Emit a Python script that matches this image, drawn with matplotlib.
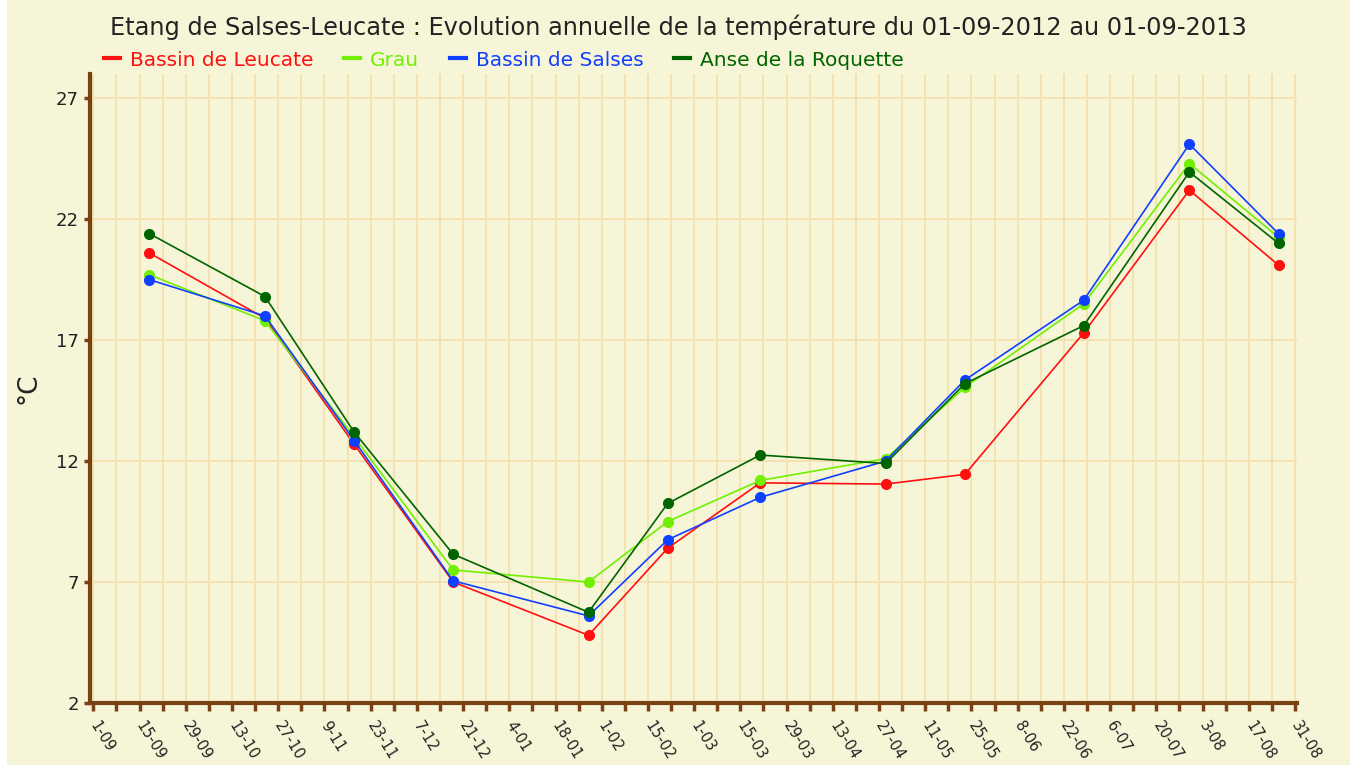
import matplotlib
matplotlib.use("Agg")
import matplotlib.pyplot as plt
import pandas as pd
import numpy as np
from matplotlib.patches import Rectangle

title = "Etang de Salses-Leucate : Evolution annuelle de la température du 01-09-2012 au 01-09-2013"
start_date = "2012-09-01"
dates = ["2012-09-18", "2012-10-23", "2012-11-19", "2012-12-19", "2013-01-29",
         "2013-02-22", "2013-03-22", "2013-04-29", "2013-05-23", "2013-06-28",
         "2013-07-30", "2013-08-26"]
leucate = [20.6, 17.9, 12.7, 7.0, 4.8, 8.4, 11.1, 11.05, 11.45, 17.3, 23.2, 20.1]
grau = [19.7, 17.8, 13.0, 7.5, 7.0, 9.5, 11.2, 12.1, 15.05, 18.5, 24.3, 21.25]
salses = [19.5, 18.0, 12.85, 7.05, 5.6, 8.75, 10.5, 12.0, 15.35, 18.65, 25.1, 21.4]
roquette = [21.4, 18.8, 13.2, 8.15, 5.75, 10.25, 12.25, 11.9, 15.2, 17.6, 23.95, 21.0]
series_names = ["Bassin de Leucate", "Grau", "Bassin de Salses", "Anse de la Roquette"]
series_colors = ["#FF1010", "#70F000", "#1040FF", "#006400"]
xtick_labels = ["1-09", "15-09", "29-09", "13-10", "27-10", "9-11", "23-11", "7-12",
                "21-12", "4-01", "18-01", "1-02", "15-02", "1-03", "15-03", "29-03",
                "13-04", "27-04", "11-05", "25-05", "8-06", "22-06", "6-07", "20-07",
                "3-08", "17-08", "31-08"]
yticks = [2, 7, 12, 17, 22, 27]

bg = "#F7F5D8"
grid_c = "#F4E2B2"
brown = "#7A4115"

days = (pd.to_datetime(dates) - pd.Timestamp(start_date)).days.values

fig = plt.figure(figsize=(13.5, 7.67), dpi=100, facecolor="white")
fig.patches.append(Rectangle((7 / 1350, 0.003), 1, 1, transform=fig.transFigure,
                             facecolor=bg, edgecolor="none", zorder=-10))
ax = fig.add_axes([90 / 1350, 1 - 703 / 767, (1297 - 90) / 1350, (703 - 74) / 767])
ax.set_facecolor(bg)

for vals, name, col in zip([leucate, grau, salses, roquette], series_names, series_colors):
    ax.plot(days, vals, color=col, lw=1.2, marker="o", ms=7, mec=col, mfc=col, label=name,
            zorder=3)

ax.set_xlim(-1, 364.6)
ax.set_ylim(2, 28)
ax.set_xticks(np.arange(len(xtick_labels)) * 14)
ax.set_xticks(np.arange(0, 365, 7), minor=True)
ax.set_xticklabels(xtick_labels, rotation=-58, ha="left", va="center",
                   rotation_mode="anchor", fontsize=10.5, color="#222222")
ax.set_yticks(yticks)
ax.set_yticklabels([str(v) for v in yticks], fontsize=13, color="#222222")
ax.tick_params(axis="x", which="both", direction="out", length=6, width=2.5, color=brown, pad=8)
ax.tick_params(axis="y", direction="out", length=4, width=2.5, color=brown, pad=4)
ax.grid(True, axis="x", which="both", color=grid_c, lw=1.4, zorder=0)
ax.grid(True, axis="y", which="major", color=grid_c, lw=1.4, zorder=0)
ax.set_axisbelow(True)
for s in ["top", "right"]:
    ax.spines[s].set_visible(False)
for s in ["left", "bottom"]:
    ax.spines[s].set_color(brown)
    ax.spines[s].set_linewidth(3)

ax.set_ylabel("°C", fontsize=19, color="#222222", labelpad=10)

fig.text(0.5025, 1 - 27 / 767, title, ha="center", va="center", fontsize=17.3, color="#222222")
leg = fig.legend(loc="center left", bbox_to_anchor=(86 / 1350, 1 - 60 / 767), ncol=4,
                 frameon=False, fontsize=14.5, handlelength=0.8, handletextpad=0.5,
                 columnspacing=1.5, labelcolor="linecolor")
for h in leg.legend_handles:
    h.set_linewidth(3)
    h.set_marker("")

fig.savefig("out.png", dpi=100, facecolor="white")
